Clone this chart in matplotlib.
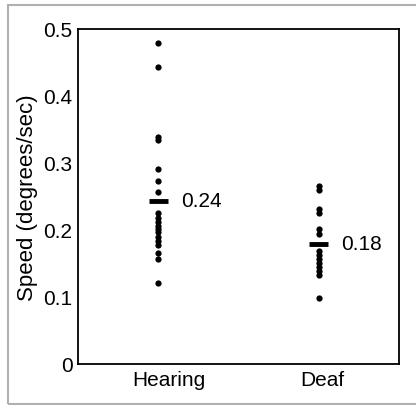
import matplotlib
matplotlib.use('Agg')
import matplotlib.pyplot as plt
import matplotlib.transforms as mtransforms
from matplotlib.patches import Rectangle

plt.rcParams['font.family'] = ['Liberation Sans', 'DejaVu Sans']

groups = ['Hearing', 'Deaf']
hearing = [0.479, 0.443, 0.338, 0.334, 0.291, 0.272, 0.257, 0.225, 0.218,
           0.212, 0.206, 0.201, 0.196, 0.190, 0.184, 0.177, 0.166, 0.156, 0.121]
deaf = [0.266, 0.259, 0.231, 0.225, 0.201, 0.194, 0.169, 0.162, 0.156,
        0.150, 0.144, 0.139, 0.133, 0.099]
means = [0.243, 0.179]
yticks = [0, 0.1, 0.2, 0.3, 0.4, 0.5]

fig = plt.figure(figsize=(4.16, 4.06), dpi=100)
# light grey frame round the panel
fig.patches.append(Rectangle((8 / 416, 1 - 405 / 406), 1.0, (405 - 6) / 406,
                             transform=fig.transFigure, fill=False,
                             edgecolor='#b0b0b0', linewidth=1.5))

ax = fig.add_axes([78 / 416, 1 - 365 / 406, (399 - 78) / 416, (365 - 29.5) / 406])

for i, vals in enumerate([hearing, deaf]):
    ax.plot([i] * len(vals), vals, 'o', color='black', markersize=4.5,
            markeredgewidth=0)
    ax.plot([i - 0.06, i + 0.06], [means[i], means[i]], color='black',
            linewidth=3.5, solid_capstyle='butt')
    ax.text(i + 0.14, means[i], '{:.2f}'.format(means[i]), fontsize=15,
            va='center', ha='left')

ax.set_xlim(-0.5, 1.5)
ax.set_ylim(0, 0.5)
ax.set_xticks([0, 1])
ax.set_xticklabels(groups, fontsize=15)
ax.set_yticks(yticks)
ax.set_yticklabels(['0', '0.1', '0.2', '0.3', '0.4', '0.5'], fontsize=15)
ax.tick_params(length=0, pad=4)
ax.set_ylabel('Speed (degrees/sec)', fontsize=16, labelpad=4)
for s in ax.spines.values():
    s.set_linewidth(1.3)

# group labels sit a little right of the dot columns in the original
for lab, dx in zip(ax.get_xticklabels(), [11, 4]):
    lab.set_transform(lab.get_transform() +
                      mtransforms.ScaledTranslation(dx / 100, 0, fig.dpi_scale_trans))

fig.savefig('out.png', dpi=100)
